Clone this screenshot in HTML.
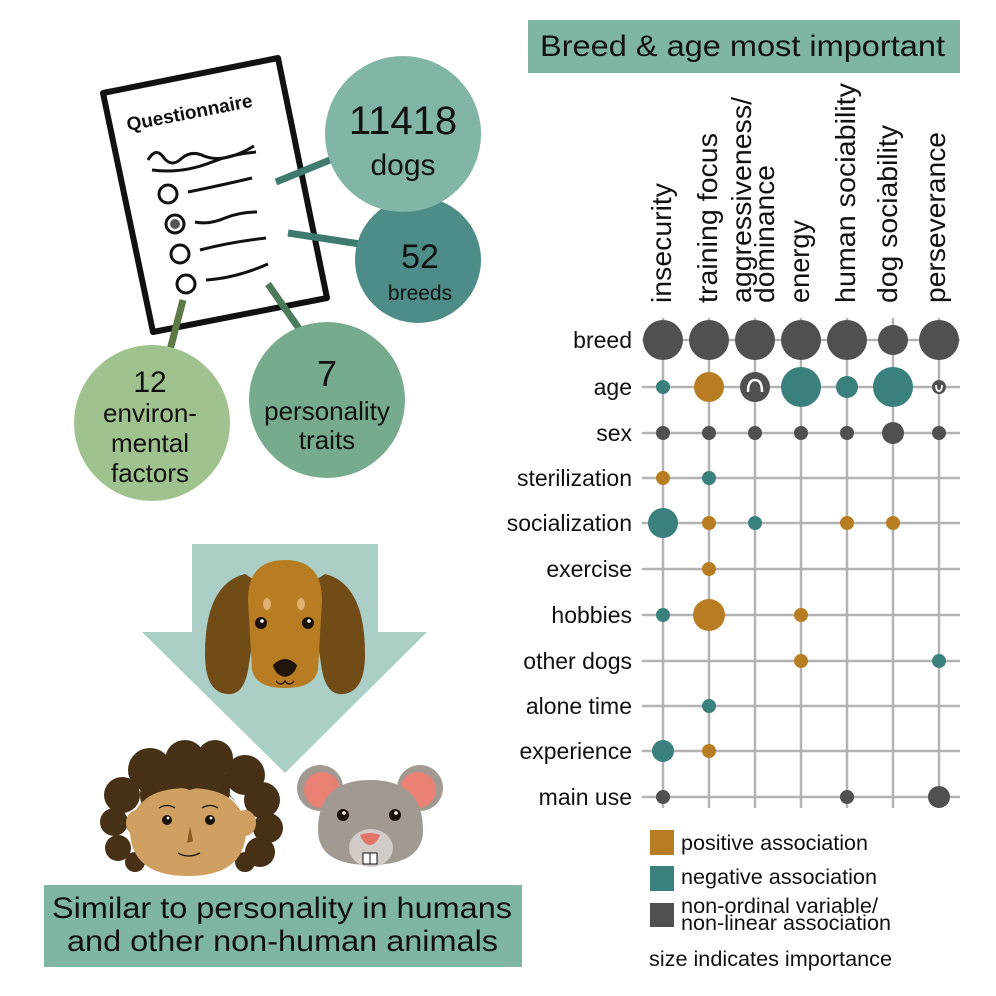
<!DOCTYPE html>
<html><head><meta charset="utf-8"><style>
html,body{margin:0;padding:0;background:#fff}
svg{display:block;font-family:"Liberation Sans",Arial,sans-serif}
</style></head><body>
<svg width="996" height="996" viewBox="0 0 996 996" xmlns="http://www.w3.org/2000/svg" font-family="Liberation Sans, Arial, sans-serif">
<!-- title -->
<rect x="528" y="20" width="432" height="53" fill="#7fb5a5"/>
<text x="540" y="56" font-size="30" textLength="405" lengthAdjust="spacingAndGlyphs" fill="#111">Breed &amp; age most important</text>

<!-- questionnaire -->
<polygon points="103,93 278,58 327,298 153,332" fill="#fff" stroke="#111" stroke-width="6" stroke-linejoin="round"/>
<text x="0" y="0" font-size="19" font-weight="bold" fill="#111" transform="translate(128,131) rotate(-11)">Questionnaire</text>
<path d="M148,160 q8,-14 16,-2 q8,10 18,0 q10,-8 22,-2 q20,8 50,-10" fill="none" stroke="#111" stroke-width="3"/>
<path d="M152,170 q30,4 60,-8 q20,-8 44,-10" fill="none" stroke="#111" stroke-width="3"/>
<circle cx="168" cy="194" r="9" fill="#fff" stroke="#111" stroke-width="3"/>
<path d="M188,192 q30,-6 64,-14" fill="none" stroke="#111" stroke-width="3"/>
<circle cx="175" cy="224" r="9" fill="#fff" stroke="#111" stroke-width="3"/>
<circle cx="175" cy="224" r="5" fill="#555"/>
<path d="M195,222 q14,3 30,-4 q15,-6 32,-6" fill="none" stroke="#111" stroke-width="3"/>
<circle cx="180" cy="254" r="9" fill="#fff" stroke="#111" stroke-width="3"/>
<path d="M200,250 q30,-8 66,-12" fill="none" stroke="#111" stroke-width="3"/>
<circle cx="186" cy="284" r="9" fill="#fff" stroke="#111" stroke-width="3"/>
<path d="M206,280 q30,-2 62,-16" fill="none" stroke="#111" stroke-width="3"/>
<!-- connectors -->
<line x1="276" y1="182" x2="330" y2="160" stroke="#3f7a6f" stroke-width="7"/>
<line x1="288" y1="233" x2="360" y2="244" stroke="#3f7a6f" stroke-width="7"/>
<line x1="268" y1="284" x2="300" y2="330" stroke="#4b7a5c" stroke-width="7"/>
<line x1="183" y1="300" x2="170" y2="350" stroke="#5b7a45" stroke-width="7"/>
<!-- bubbles -->
<circle cx="418" cy="260" r="63" fill="#4e8c8a"/>
<text x="420" y="268" font-size="34" text-anchor="middle" fill="#111">52</text>
<text x="420" y="300" font-size="21" text-anchor="middle" fill="#111">breeds</text>
<circle cx="403" cy="134" r="78" fill="#80b5a7"/>
<text x="403" y="134" font-size="40" text-anchor="middle" fill="#111">11418</text>
<text x="403" y="175" font-size="30" text-anchor="middle" fill="#111">dogs</text>
<circle cx="152" cy="423" r="78" fill="#a0c28f"/>
<text x="150" y="392" font-size="30" text-anchor="middle" fill="#111">12</text>
<text x="150" y="422" font-size="26" text-anchor="middle" fill="#111">environ-</text>
<text x="150" y="452" font-size="26" text-anchor="middle" fill="#111">mental</text>
<text x="150" y="482" font-size="26" text-anchor="middle" fill="#111">factors</text>
<circle cx="327" cy="400" r="78" fill="#76ab8d"/>
<text x="327" y="386" font-size="36" text-anchor="middle" fill="#111">7</text>
<text x="327" y="420" font-size="26" text-anchor="middle" fill="#111">personality</text>
<text x="327" y="449" font-size="26" text-anchor="middle" fill="#111">traits</text>

<!-- arrow -->
<polygon points="192,544 378,544 378,632 427,632 285,773 142,632 192,632" fill="#abcfc6"/>
<!-- dog -->
<path d="M245,574 q-40,10 -40,80 q0,38 22,40 q18,2 22,-30 l12,-80 z" fill="#714c17"/>
<path d="M325,574 q40,10 40,80 q0,38 -22,40 q-18,2 -22,-30 l-12,-80 z" fill="#714c17"/>
<path d="M248,600 q0,-40 37,-40 q37,0 37,40 l-4,70 q-4,18 -33,18 q-29,0 -33,-18 z" fill="#b87d23"/>
<ellipse cx="267" cy="604" rx="4" ry="6" fill="#e2b070"/>
<ellipse cx="301" cy="604" rx="4" ry="6" fill="#e2b070"/>
<circle cx="261" cy="623" r="6" fill="#1a120a"/><circle cx="262" cy="621" r="1.8" fill="#fff"/>
<circle cx="308" cy="623" r="6" fill="#1a120a"/><circle cx="309" cy="621" r="1.8" fill="#fff"/>
<path d="M273,665 q12,-12 24,0 q-2,10 -12,12 q-10,-2 -12,-12z" fill="#201508"/>
<path d="M276,681 q5,6 9,0 q4,6 9,0" fill="none" stroke="#111" stroke-width="1.2"/>

<!-- human -->
<g fill="#473116">
<circle cx="150" cy="770" r="22"/><circle cx="185" cy="760" r="20"/><circle cx="215" cy="758" r="18"/>
<circle cx="245" cy="775" r="20"/><circle cx="262" cy="800" r="18"/><circle cx="268" cy="828" r="15"/>
<circle cx="260" cy="852" r="15"/><circle cx="122" cy="795" r="18"/><circle cx="114" cy="822" r="14"/>
<circle cx="118" cy="848" r="13"/><circle cx="135" cy="862" r="10"/><circle cx="245" cy="862" r="10"/>
<circle cx="200" cy="790" r="30"/><circle cx="165" cy="795" r="25"/>
</g>
<ellipse cx="137" cy="823" rx="11" ry="13" fill="#cfa062"/>
<ellipse cx="245" cy="823" rx="11" ry="13" fill="#cfa062"/>
<path d="M130,832 q2,-44 58,-44 q56,0 58,44 q-2,44 -58,44 q-56,0 -58,-44z" fill="#cfa062"/>
<path d="M140,805 q20,-25 50,-15 q30,-10 48,15 q-20,-30 -48,-20 q-30,-10 -50,20z" fill="#473116"/>
<circle cx="167" cy="820" r="5" fill="#1a120a"/><circle cx="210" cy="820" r="5" fill="#1a120a"/>
<circle cx="168" cy="818" r="1.4" fill="#fff"/><circle cx="211" cy="818" r="1.4" fill="#fff"/>
<path d="M159,808 q8,-5 16,0 M202,808 q8,-5 16,0" fill="none" stroke="#111" stroke-width="1.2"/>
<path d="M190,826 l-3,17 l6,-2z" fill="#8c5a20"/>
<path d="M178,853 q10,6 22,0" fill="none" stroke="#111" stroke-width="1.3"/>
<!-- mouse -->
<circle cx="320" cy="788" r="23" fill="#a19a93"/><circle cx="322" cy="790" r="18" fill="#e98275"/>
<circle cx="420" cy="788" r="23" fill="#a19a93"/><circle cx="418" cy="790" r="18" fill="#e98275"/>
<path d="M318,830 q0,-50 52,-50 q53,0 53,50 q0,35 -53,35 q-52,0 -52,-35z" fill="#a19a93"/>
<ellipse cx="371" cy="848" rx="22" ry="19" fill="#d1ccc7"/>
<circle cx="343" cy="815" r="6" fill="#1a120a"/><circle cx="344" cy="813" r="1.8" fill="#fff"/>
<circle cx="395" cy="815" r="6" fill="#1a120a"/><circle cx="396" cy="813" r="1.8" fill="#fff"/>
<path d="M360,835 q10,-4 20,0 q-4,10 -10,10 q-6,0 -10,-10z" fill="#e2746a"/>
<rect x="363" y="853" width="7" height="11" fill="#fff" stroke="#111" stroke-width="1"/>
<rect x="370" y="853" width="7" height="11" fill="#fff" stroke="#111" stroke-width="1"/>

<!-- bottom box -->
<rect x="44" y="885" width="478" height="82" fill="#7fb5a5"/>
<text x="52" y="918" font-size="30" textLength="460" lengthAdjust="spacingAndGlyphs" fill="#111">Similar to personality in humans</text>
<text x="67" y="951" font-size="30" textLength="431" lengthAdjust="spacingAndGlyphs" fill="#111">and other non-human animals</text>

<!-- grid -->
<g stroke="#b3b3b3" stroke-width="2.5">
<line x1="663" y1="318" x2="663" y2="808"/><line x1="709" y1="318" x2="709" y2="808"/>
<line x1="755" y1="318" x2="755" y2="808"/><line x1="801" y1="318" x2="801" y2="808"/>
<line x1="847" y1="318" x2="847" y2="808"/><line x1="893" y1="318" x2="893" y2="808"/>
<line x1="939" y1="318" x2="939" y2="808"/>
<line x1="642" y1="340" x2="960" y2="340"/><line x1="642" y1="387" x2="960" y2="387"/>
<line x1="642" y1="433" x2="960" y2="433"/><line x1="642" y1="478" x2="960" y2="478"/>
<line x1="642" y1="523" x2="960" y2="523"/><line x1="642" y1="569" x2="960" y2="569"/>
<line x1="642" y1="615" x2="960" y2="615"/><line x1="642" y1="661" x2="960" y2="661"/>
<line x1="642" y1="706" x2="960" y2="706"/><line x1="642" y1="751" x2="960" y2="751"/>
<line x1="642" y1="797" x2="960" y2="797"/>
</g>
<!-- row labels -->
<g font-size="23" text-anchor="end" fill="#111">
<text x="632" y="348">breed</text><text x="632" y="395">age</text><text x="632" y="441">sex</text>
<text x="632" y="486">sterilization</text><text x="632" y="531">socialization</text>
<text x="632" y="577">exercise</text><text x="632" y="623">hobbies</text>
<text x="632" y="669">other dogs</text><text x="632" y="714">alone time</text>
<text x="632" y="759">experience</text><text x="632" y="805">main use</text>
</g>
<!-- column labels -->
<g font-size="28" fill="#111">
<text transform="translate(671,303) rotate(-90)" textLength="120" lengthAdjust="spacingAndGlyphs">insecurity</text>
<text transform="translate(717,303) rotate(-90)" textLength="170" lengthAdjust="spacingAndGlyphs">training focus</text>
<text transform="translate(751,303) rotate(-90)" textLength="206" lengthAdjust="spacingAndGlyphs">aggressiveness/</text>
<text transform="translate(774,303) rotate(-90)" textLength="138" lengthAdjust="spacingAndGlyphs">dominance</text>
<text transform="translate(809,303) rotate(-90)" textLength="83" lengthAdjust="spacingAndGlyphs">energy</text>
<text transform="translate(855,303) rotate(-90)" textLength="220" lengthAdjust="spacingAndGlyphs">human sociability</text>
<text transform="translate(897,303) rotate(-90)" textLength="178" lengthAdjust="spacingAndGlyphs">dog sociability</text>
<text transform="translate(945,303) rotate(-90)" textLength="171" lengthAdjust="spacingAndGlyphs">perseverance</text>
</g>
<!-- dots -->
<g fill="#505050">
<circle cx="663" cy="340" r="20"/><circle cx="709" cy="340" r="20"/><circle cx="755" cy="340" r="20"/>
<circle cx="801" cy="340" r="20"/><circle cx="847" cy="340" r="20"/><circle cx="893" cy="340" r="15"/>
<circle cx="939" cy="340" r="20"/>
<circle cx="755" cy="387" r="15"/><circle cx="939" cy="387" r="7"/>
<circle cx="663" cy="433" r="7"/><circle cx="709" cy="433" r="7"/><circle cx="755" cy="433" r="7"/>
<circle cx="801" cy="433" r="7"/><circle cx="847" cy="433" r="7"/><circle cx="893" cy="433" r="11"/>
<circle cx="939" cy="433" r="7"/>
<circle cx="663" cy="797" r="7"/><circle cx="847" cy="797" r="7"/><circle cx="939" cy="797" r="11"/>
</g>
<path d="M748,392 q0,-12 7,-12 q7,0 7,12" fill="none" stroke="#fff" stroke-width="2.5"/>
<path d="M936,385 q0,6 3,6 q3,0 3,-6" fill="none" stroke="#fff" stroke-width="1.8"/>
<g fill="#3a807d">
<circle cx="663" cy="387" r="7"/><circle cx="801" cy="387" r="20"/><circle cx="847" cy="387" r="11"/>
<circle cx="893" cy="387" r="20"/>
<circle cx="709" cy="478" r="7"/>
<circle cx="663" cy="523" r="15"/><circle cx="755" cy="523" r="7"/>
<circle cx="663" cy="615" r="7"/><circle cx="939" cy="661" r="7"/>
<circle cx="709" cy="706" r="7"/><circle cx="663" cy="751" r="11"/>
</g>
<g fill="#b87d23">
<circle cx="709" cy="387" r="15"/><circle cx="663" cy="478" r="7"/>
<circle cx="709" cy="523" r="7"/><circle cx="847" cy="523" r="7"/><circle cx="893" cy="523" r="7"/>
<circle cx="709" cy="569" r="7"/><circle cx="709" cy="615" r="16"/><circle cx="801" cy="615" r="7"/>
<circle cx="801" cy="661" r="7"/><circle cx="709" cy="751" r="7"/>
</g>
<!-- legend -->
<rect x="650" y="830" width="24" height="25" fill="#b87d23"/>
<rect x="650" y="866" width="24" height="25" fill="#3a807d"/>
<rect x="650" y="903" width="24" height="24" fill="#505050"/>
<g font-size="21" fill="#111">
<text x="681" y="850" textLength="187" lengthAdjust="spacingAndGlyphs">positive association</text>
<text x="681" y="884" textLength="196" lengthAdjust="spacingAndGlyphs">negative association</text>
<text x="681" y="913" textLength="197" lengthAdjust="spacingAndGlyphs">non-ordinal variable/</text>
<text x="681" y="930" textLength="210" lengthAdjust="spacingAndGlyphs">non-linear association</text>
<text x="649" y="966" textLength="243" lengthAdjust="spacingAndGlyphs">size indicates importance</text>
</g>
</svg>
</body></html>
